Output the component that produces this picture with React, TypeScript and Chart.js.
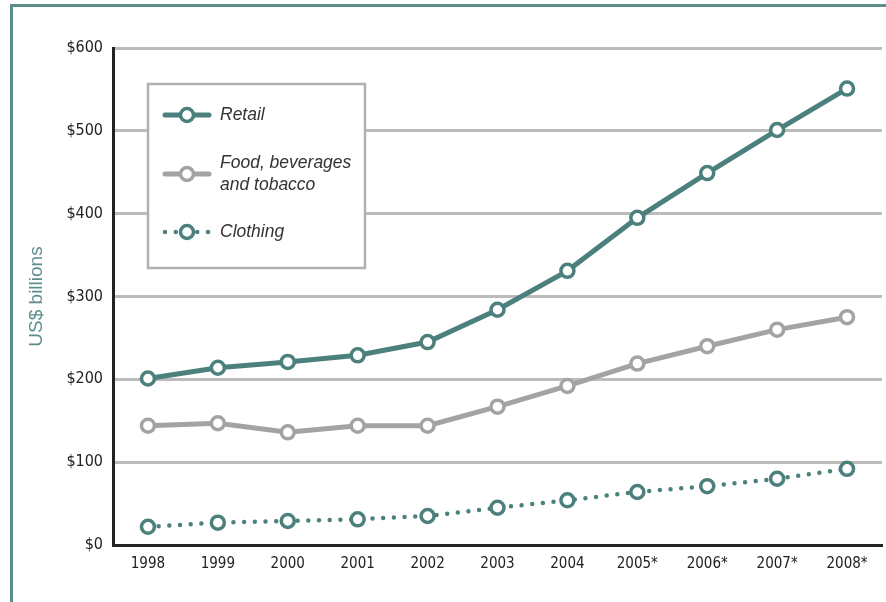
import React, { useEffect, useRef } from "react";
import { Chart, registerables } from "chart.js";

Chart.register(...registerables);

const categories = ["1998", "1999", "2000", "2001", "2002", "2003", "2004", "2005*", "2006*", "2007*", "2008*"];
const retail = [201, 214, 221, 229, 245, 284, 331, 395, 449, 501, 551];
const food = [144, 147, 136, 144, 144, 167, 192, 219, 240, 260, 275];
const clothing = [22, 27, 29, 31, 35, 45, 54, 64, 71, 80, 92];
const yTicks = [0, 100, 200, 300, 400, 500, 600];
const seriesNames = ["Retail", "Food, beverages\nand tobacco", "Clothing"];

const TEAL = "#4b807c";
const GREY = "#a3a3a5";
const FRAME = "#5e8e8c";
const TICK_FONT = "'DejaVu Sans Condensed', 'Liberation Sans Narrow', sans-serif";
const LEGEND_FONT = "'Liberation Sans', Arial, sans-serif";

const legendPlugin = {
  id: "boxLegend",
  afterDraw(chart: any) {
    const ctx = chart.ctx as CanvasRenderingContext2D;
    ctx.save();
    ctx.fillStyle = "#ffffff";
    ctx.fillRect(148, 84, 217, 184);
    ctx.strokeStyle = "#b0b0b0";
    ctx.lineWidth = 2.5;
    ctx.strokeRect(148, 84, 217, 184);

    const rows = [
      { y: 115, color: TEAL, dotted: false, lines: seriesNames[0].split("\n"), textY: [115] },
      { y: 174, color: GREY, dotted: false, lines: seriesNames[1].split("\n"), textY: [163, 185] },
      { y: 232, color: TEAL, dotted: true, lines: seriesNames[2].split("\n"), textY: [232] },
    ];
    for (const r of rows) {
      ctx.strokeStyle = r.color;
      ctx.lineCap = "round";
      if (r.dotted) {
        ctx.lineWidth = 4.5;
        ctx.setLineDash([0, 10.75]);
      } else {
        ctx.lineWidth = 5;
        ctx.setLineDash([]);
      }
      ctx.beginPath();
      ctx.moveTo(165, r.y);
      ctx.lineTo(209, r.y);
      ctx.stroke();
      ctx.setLineDash([]);
      ctx.beginPath();
      ctx.arc(187, r.y, 6.5, 0, Math.PI * 2);
      ctx.fillStyle = "#ffffff";
      ctx.fill();
      ctx.lineWidth = 3.5;
      ctx.stroke();

      ctx.fillStyle = "#333333";
      ctx.font = `italic 17.5px ${LEGEND_FONT}`;
      ctx.textBaseline = "middle";
      ctx.textAlign = "left";
      r.lines.forEach((t, i) => ctx.fillText(t, 220, r.textY[i]));
    }
    ctx.restore();
  },
};

const framePlugin = {
  id: "frame",
  beforeDraw(chart: any) {
    const ctx = chart.ctx as CanvasRenderingContext2D;
    ctx.save();
    ctx.fillStyle = "#ffffff";
    ctx.fillRect(0, 0, chart.width, chart.height);
    ctx.fillStyle = FRAME;
    ctx.fillRect(10, 4, chart.width - 10, 3);
    ctx.fillRect(10, 4, 3, chart.height - 4);
    ctx.restore();
  },
};

export default function App() {
  const ref = useRef<HTMLCanvasElement>(null);
  useEffect(() => {
    document.body.style.margin = "0";
    const chart = new Chart(ref.current as HTMLCanvasElement, {
      type: "line",
      data: {
        labels: categories,
        datasets: [
          {
            label: "Retail",
            data: retail,
            borderColor: TEAL,
            borderWidth: 5,
            pointRadius: 6.5,
            pointBorderWidth: 3.5,
            pointBackgroundColor: "#ffffff",
            pointBorderColor: TEAL,
          },
          {
            label: "Food, beverages and tobacco",
            data: food,
            borderColor: GREY,
            borderWidth: 5,
            pointRadius: 6.5,
            pointBorderWidth: 3.5,
            pointBackgroundColor: "#ffffff",
            pointBorderColor: GREY,
          },
          {
            label: "Clothing",
            data: clothing,
            borderColor: TEAL,
            borderWidth: 4.5,
            borderDash: [0, 10.7],
            borderCapStyle: "round",
            pointRadius: 6.5,
            pointBorderWidth: 3.5,
            pointBackgroundColor: "#ffffff",
            pointBorderColor: TEAL,
          },
        ],
      },
      options: {
        responsive: false,
        animation: false,
        layout: { autoPadding: false, padding: { top: 48, right: 4, left: 0, bottom: 0 } },
        plugins: { legend: { display: false }, tooltip: { enabled: false } },
        scales: {
          x: {
            offset: true,
            grid: { display: false, drawTicks: false },
            border: { color: "#222222", width: 3 },
            ticks: {
              color: "#222222",
              font: { family: TICK_FONT, size: 15 },
              padding: 10,
              autoSkip: false,
              maxRotation: 0,
            },
            afterFit(scale: any) {
              scale.height = 57;
              scale.paddingLeft = 0;
              scale.paddingRight = 0;
            },
          },
          y: {
            min: 0,
            max: 600,
            afterBuildTicks(scale: any) {
              scale.ticks = yTicks.map((v) => ({ value: v }));
            },
            grid: { color: "#bcbcbc", lineWidth: 3, drawTicks: false },
            border: { color: "#222222", width: 3 },
            ticks: {
              color: "#222222",
              font: { family: TICK_FONT, size: 16 },
              padding: 10,
              callback: (v: any) => "$" + v,
            },
            title: {
              display: true,
              text: "US$ billions",
              color: "#5e8e8c",
              font: { family: LEGEND_FONT, size: 19 },
              padding: { top: 25, bottom: 0 },
            },
            afterFit(scale: any) {
              scale.width = 113;
              scale.paddingTop = 0;
              scale.paddingBottom = 0;
            },
          },
        },
      },
      plugins: [framePlugin, legendPlugin],
    } as any);
    return () => chart.destroy();
  }, []);
  return (
    <div style={{ position: "absolute", left: 0, top: 0, width: 886, height: 602 }}>
      <canvas ref={ref} width={886} height={602} />
    </div>
  );
}
